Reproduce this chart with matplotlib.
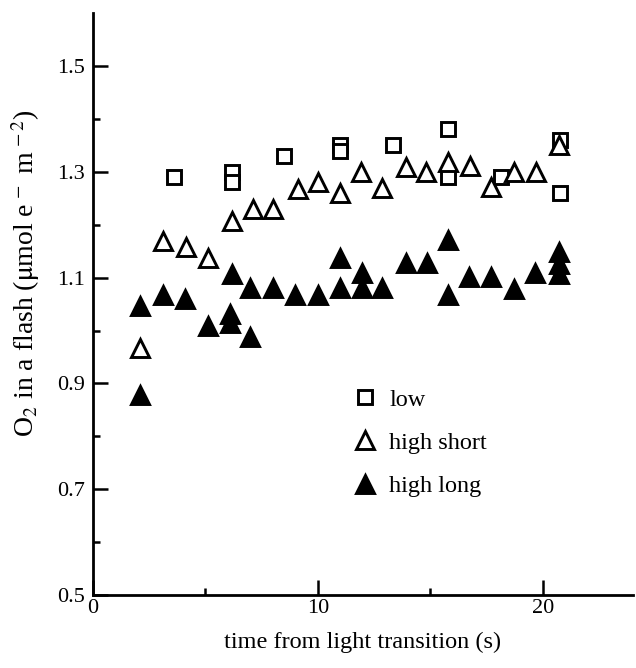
import matplotlib
matplotlib.use("Agg")
import matplotlib.pyplot as plt

plt.rcParams['font.family'] = ['Liberation Serif', 'DejaVu Serif']
plt.rcParams['mathtext.fontset'] = 'stix'

# low light
low_t = [3.6, 6.2, 6.2, 8.5, 11.0, 11.0, 13.35, 15.8, 15.8, 18.15, 20.75, 20.75]
low_o2 = [1.29, 1.30, 1.28, 1.33, 1.35, 1.34, 1.35, 1.38, 1.29, 1.29, 1.36, 1.26]

# high light, short
hs_t = [2.1, 3.1, 4.15, 5.1, 6.2, 7.1, 8.0, 9.1, 10.0, 11.0, 11.9, 12.85,
        13.9, 14.8, 15.8, 16.75, 17.7, 18.7, 19.7, 20.7]
hs_o2 = [0.967, 1.169, 1.158, 1.137, 1.207, 1.229, 1.229, 1.267, 1.281, 1.260,
         1.300, 1.270, 1.310, 1.300, 1.319, 1.311, 1.271, 1.299, 1.299, 1.351]

# high light, long
hl_t = [2.1, 2.1, 3.1, 4.1, 5.1, 6.1, 6.1, 6.2, 7.0, 7.0, 8.0, 9.0, 10.0,
        11.0, 11.0, 11.95, 11.95, 12.85, 13.9, 14.85, 15.8, 15.8, 16.7, 17.7,
        18.7, 19.65, 20.7, 20.7, 20.7]
hl_o2 = [0.879, 1.046, 1.068, 1.059, 1.008, 1.031, 1.015, 1.107, 0.988, 1.080,
         1.080, 1.068, 1.068, 1.138, 1.080, 1.108, 1.080, 1.080, 1.128, 1.128,
         1.171, 1.068, 1.101, 1.101, 1.079, 1.109, 1.148, 1.125, 1.107]

fig = plt.figure(figsize=(6.36, 6.68), dpi=100)
ax = fig.add_axes([0.146, 0.109, 0.849, 0.8715])

ax.plot(low_t, low_o2, linestyle='none', marker='s', markersize=10,
        markerfacecolor='white', markeredgecolor='black', markeredgewidth=2.1,
        label='low')
ax.plot(hs_t, hs_o2, linestyle='none', marker='^', markersize=12.5,
        markerfacecolor='white', markeredgecolor='black', markeredgewidth=2.1,
        label='high short')
ax.plot(hl_t, hl_o2, linestyle='none', marker='^', markersize=12.5,
        markerfacecolor='black', markeredgecolor='black', markeredgewidth=2.1,
        label='high long')

ax.set_xlim(0, 24)
ax.set_ylim(0.5, 1.6)
ax.set_xticks([0, 10, 20])
ax.set_xticks([5, 15], minor=True)
ax.set_yticks([0.5, 0.7, 0.9, 1.1, 1.3, 1.5])
ax.set_yticks([0.6, 0.8, 1.0, 1.2, 1.4], minor=True)

for s in ['top', 'right']:
    ax.spines[s].set_visible(False)
for s in ['left', 'bottom']:
    ax.spines[s].set_linewidth(2)

ax.tick_params(which='major', direction='in', length=10.5, width=1.8,
               labelsize=16, pad=6)
ax.tick_params(axis='x', which='major', pad=3)
ax.tick_params(which='minor', direction='in', length=5, width=1.8)

ax.set_xlabel('time from light transition (s)', fontsize=17.5, labelpad=10)
ax.set_ylabel(r'O$_2$ in a flash ($\mathrm{\mu}$mol e$^{\,-}$ m$^{\,-2}$)',
              fontsize=20)
ax.yaxis.set_label_coords(-0.094, 0.552)

ax.legend(loc='center left', bbox_to_anchor=(0.481, 0.2615), frameon=False,
          numpoints=1, fontsize=17.5, handlelength=1.0, handletextpad=0.5,
          labelspacing=0.88, borderpad=0, borderaxespad=0)

fig.savefig('out.png', dpi=100)
